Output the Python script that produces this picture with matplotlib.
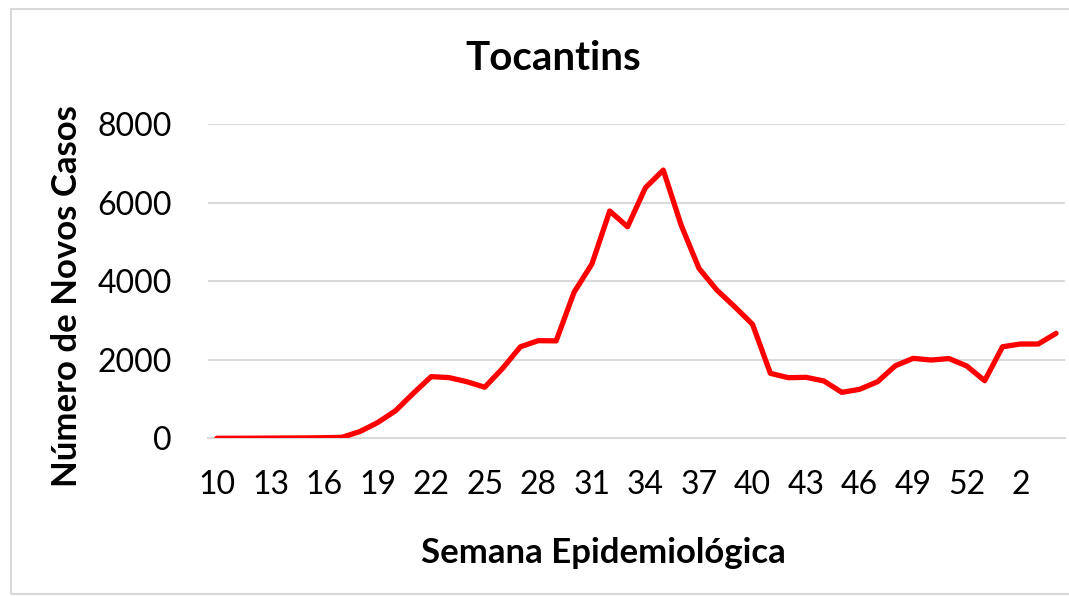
import matplotlib
matplotlib.use("Agg")
import matplotlib.pyplot as plt
from matplotlib.patches import Rectangle

weeks = list(range(10, 54)) + [1, 2, 3, 4]
cases = [0, 1, 3, 5, 8, 10, 15, 25, 170, 400, 700, 1145, 1570, 1545, 1440, 1300,
         1780, 2330, 2485, 2480, 3715, 4435, 5785, 5385, 6378, 6827, 5427, 4325,
         3773, 3349, 2900, 1653, 1543, 1552, 1458, 1170, 1247, 1440, 1847, 2035,
         1992, 2030, 1840, 1466, 2330, 2400, 2400, 2671]
y_ticks = [0, 2000, 4000, 6000, 8000]

plt.rcParams['font.family'] = ['Lato', 'DejaVu Sans']

fig = plt.figure(figsize=(10.69, 5.96), dpi=100)
ax = fig.add_axes([208/1069, 1-438.3/596, (1065-208)/1069, (438.3-124)/596])

x = list(range(len(weeks)))
ax.plot(x, cases, color='#FF0000', linewidth=3.8, solid_joinstyle='round', solid_capstyle='round', zorder=3)

ax.set_xlim(-0.5, len(weeks)-0.5)
ax.set_ylim(y_ticks[0], y_ticks[-1])
ax.set_yticks(y_ticks)
ax.set_yticklabels([str(v) for v in y_ticks])
idx = list(range(0, len(weeks), 3))
ax.set_xticks(idx)
ax.set_xticklabels([str(weeks[i]) for i in idx])

ax.grid(axis='y', color='#D9D9D9', linewidth=1.5)
ax.set_axisbelow(True)
for s in ['top', 'right', 'left']:
    ax.spines[s].set_visible(False)
ax.spines['bottom'].set_color('#D9D9D9')
ax.spines['bottom'].set_linewidth(1.5)
ax.tick_params(axis='both', length=0, labelsize=23)
ax.tick_params(axis='y', pad=26)
ax.tick_params(axis='x', pad=23)

fig.text(553/1069, 1-58/596, 'Tocantins', ha='center', va='center', fontsize=29, fontweight='bold')
fig.text(603/1069, 1-553/596, 'Semana Epidemiológica', ha='center', va='center', fontsize=25, fontweight='bold')
fig.text(67/1069, 1-296/596, 'Número de Novos Casos', ha='center', va='center', rotation=90, fontsize=25, fontweight='bold')

fig.patches.append(Rectangle((11/1069, 1-594/596), 1.1, (594-9)/596, transform=fig.transFigure,
                             fill=False, edgecolor='#D9D9D9', linewidth=1.5))

fig.savefig('out.png', dpi=100)
